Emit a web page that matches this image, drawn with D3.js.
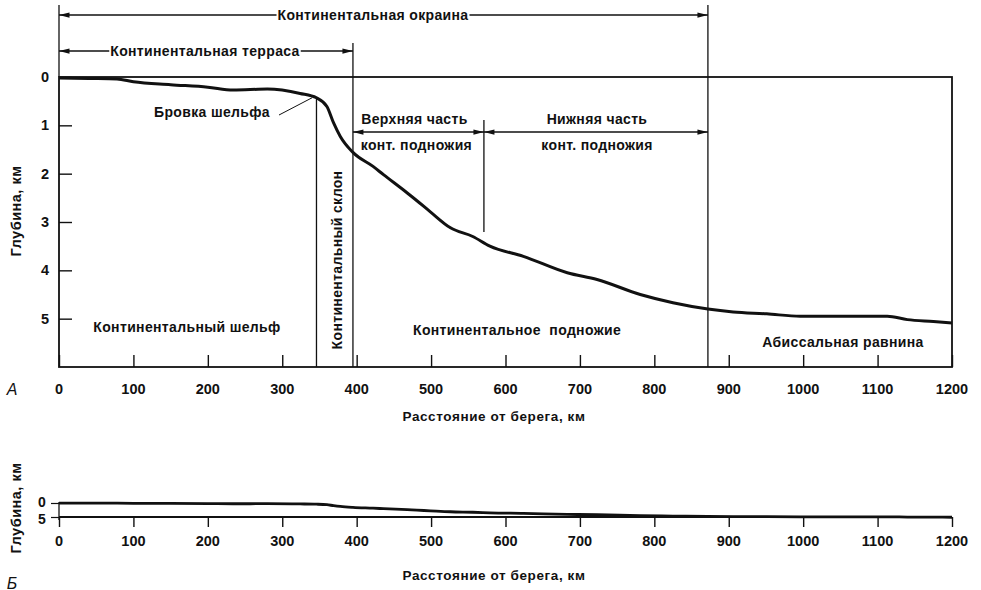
<!DOCTYPE html>
<html><head><meta charset="utf-8">
<script src="https://cdn.jsdelivr.net/npm/d3@7"></script>
<style>
body{margin:0;background:#fff;}
text{font-family:"Liberation Sans",Arial,sans-serif;fill:#111;}
</style></head>
<body><svg id="c" width="981" height="590"></svg>
<script>
// ---- data ----
const distanceKm = [0, 40, 78, 100, 150, 200, 234, 280, 324, 346, 360, 369, 378, 395, 422, 436, 468, 481, 499, 526, 556, 579, 624, 683, 723, 781, 825, 872, 906, 951, 996, 1040, 1113, 1140, 1175, 1200];
const depthKm    = [0.02, 0.03, 0.04, 0.1, 0.16, 0.21, 0.27, 0.25, 0.34, 0.43, 0.61, 0.95, 1.23, 1.56, 1.85, 2.02, 2.4, 2.56, 2.79, 3.12, 3.3, 3.5, 3.71, 4.05, 4.19, 4.5, 4.67, 4.8, 4.86, 4.9, 4.95, 4.95, 4.95, 5.02, 5.06, 5.09];
const xTicks = [0, 100, 200, 300, 400, 500, 600, 700, 800, 900, 1000, 1100, 1200];
const yTicks = [0, 1, 2, 3, 4, 5];
const yTicksSmall = [0, 5];
const shelfBreakKm = 346, slopeEndKm = 395, footMidKm = 571, footEndKm = 872;
const zoneLabels = ["Континентальный шельф", "Континентальный склон", "Континентальное  подножие", "Абиссальная равнина"];

const svg = d3.select("#c");
const ink = "#111";
const FS = 14, LS = 0.35;
const x = d3.scaleLinear([0, 1200], [59, 952]);
const y = d3.scaleLinear([0, 6], [77, 367]);
const data = distanceKm.map((d, i) => ({d, z: depthKm[i]}));

const defs = svg.append("defs");
defs.append("marker").attr("id", "ah").attr("viewBox", "0 0 12 8").attr("refX", 12).attr("refY", 4)
  .attr("markerWidth", 12).attr("markerHeight", 7).attr("markerUnits", "userSpaceOnUse")
  .attr("orient", "auto-start-reverse")
  .append("path").attr("d", "M0,1 L12,4 L0,7 z").attr("fill", ink);

function vline(xv, y1, y2, w) {
  svg.append("line").attr("x1", xv).attr("x2", xv).attr("y1", y1).attr("y2", y2)
    .attr("stroke", ink).attr("stroke-width", w || 1.3);
}
function seg(x1, x2, yv, startArrow, endArrow) {
  const l = svg.append("line").attr("x1", x1).attr("x2", x2).attr("y1", yv).attr("y2", yv)
    .attr("stroke", ink).attr("stroke-width", 1.3);
  if (startArrow) l.attr("marker-start", "url(#ah)");
  if (endArrow) l.attr("marker-end", "url(#ah)");
}
function label(t, xv, yv, size, anchor) {
  return svg.append("text").attr("x", xv).attr("y", yv).attr("text-anchor", anchor || "middle")
    .attr("dominant-baseline", "central").attr("font-size", size || FS).text(t);
}
function note(t, xv, yv) {
  return label(t, xv, yv, FS).attr("font-weight", "bold").attr("letter-spacing", LS);
}
function textArrow(t, x1, x2, yv, cx) {
  const tx = note(t, cx, yv);
  const w = tx.node().getBBox().width;
  seg(cx - w / 2 - 1, x1, yv, false, true);
  seg(cx + w / 2 + 1, x2, yv, false, true);
}

// ---- top chart frame ----
svg.append("rect").attr("x", x(0)).attr("y", y(0)).attr("width", x(1200) - x(0)).attr("height", y(6) - y(0))
  .attr("fill", "none").attr("stroke", ink).attr("stroke-width", 1.8);
vline(x(0), 5, y(0), 1.3);
vline(x(slopeEndKm), 43, y(6), 1.3);
vline(x(footEndKm), 5, y(6), 1.3);
vline(x(shelfBreakKm), y(0.43), y(6), 1.3);
vline(x(footMidKm), 120, 232, 1.3);

const gx = svg.append("g").attr("transform", `translate(0,${y(6)})`)
  .call(d3.axisTop(x).tickValues(xTicks).tickSize(12).tickFormat(""));
gx.select(".domain").remove();
gx.selectAll("line").attr("stroke", ink).attr("stroke-width", 1.4);
xTicks.forEach(v => label(v, x(v), 389, 14.5).attr("font-weight", "bold"));
const gy = svg.append("g").attr("transform", `translate(${x(0)},0)`)
  .call(d3.axisRight(y).tickValues(yTicks).tickSize(13).tickFormat(""));
gy.select(".domain").remove();
gy.selectAll("line").attr("stroke", ink).attr("stroke-width", 1.4);
yTicks.forEach(v => label(v, 45, y(v), 14.5).attr("font-weight", "bold"));

svg.append("text").attr("transform", "translate(16,211) rotate(-90)").attr("text-anchor", "middle")
  .attr("dominant-baseline", "central").attr("font-size", 14.5).attr("font-weight", "bold")
  .attr("letter-spacing", 0.5).text("Глубина, км");
label("А", 12, 389, 16).attr("font-style", "italic");
note("Расстояние от берега, км", 494, 416).attr("font-size", 13.5).attr("letter-spacing", 0.6);

// profile
const line = d3.line().x(d => x(d.d)).y(d => y(d.z)).curve(d3.curveMonotoneX);
svg.append("path").datum(data).attr("d", line).attr("fill", "none").attr("stroke", ink)
  .attr("stroke-width", 3).attr("stroke-linejoin", "round");

// annotations
textArrow("Континентальная окраина", x(0), x(footEndKm), 15, 373);
textArrow("Континентальная терраса", x(0), x(slopeEndKm), 51, 205);
seg(x(slopeEndKm), x(footMidKm), 132, true, true);
seg(x(footMidKm), x(footEndKm), 132, true, true);
note("Верхняя часть", (x(slopeEndKm) + x(footMidKm)) / 2 - 4, 119);
note("конт. подножия", (x(slopeEndKm) + x(footMidKm)) / 2 - 2, 145);
note("Нижняя часть", 597, 119);
note("конт. подножия", 597, 145);
note("Бровка шельфа", 212, 112);
svg.append("line").attr("x1", 279).attr("y1", 115).attr("x2", x(340)).attr("y2", y(0.43))
  .attr("stroke", ink).attr("stroke-width", 1);
note(zoneLabels[0], 187, 327);
svg.append("text").attr("transform", "translate(337,260) rotate(-90)").attr("text-anchor", "middle")
  .attr("dominant-baseline", "central").attr("font-size", FS).attr("font-weight", "bold")
  .attr("letter-spacing", LS).text(zoneLabels[1]);
note(zoneLabels[2], 517, 330).style("white-space", "pre");
note(zoneLabels[3], 843, 342);

// ---- bottom chart (true scale) ----
const y2 = d3.scaleLinear([0, 5], [503, 517]);
svg.append("line").attr("x1", x(0)).attr("x2", x(1200)).attr("y1", y2(5)).attr("y2", y2(5))
  .attr("stroke", ink).attr("stroke-width", 1.8);
vline(x(0), y2(0) - 1, y2(5) + 3, 1.3);
const gx2 = svg.append("g").attr("transform", `translate(0,${y2(5)})`)
  .call(d3.axisBottom(x).tickValues(xTicks).tickSize(10).tickFormat(""));
gx2.select(".domain").remove();
gx2.selectAll("line").attr("stroke", ink).attr("stroke-width", 1.4);
xTicks.forEach(v => label(v, x(v), 541, 14.5).attr("font-weight", "bold"));
const gy2 = svg.append("g").attr("transform", `translate(${x(0)},0)`)
  .call(d3.axisLeft(y2).tickValues(yTicksSmall).tickSize(8).tickFormat(""));
gy2.select(".domain").remove();
gy2.selectAll("line").attr("stroke", ink).attr("stroke-width", 1.2);
label(yTicksSmall[0], 42, 501.5, 14).attr("font-weight", "bold");
label(yTicksSmall[1], 42, 519, 14).attr("font-weight", "bold");
const line2 = d3.line().x(d => x(d.d)).y(d => y2(d.z)).curve(d3.curveMonotoneX);
svg.append("path").datum(data).attr("d", line2).attr("fill", "none").attr("stroke", ink).attr("stroke-width", 2.8);
svg.append("text").attr("transform", "translate(16,508) rotate(-90)").attr("text-anchor", "middle")
  .attr("dominant-baseline", "central").attr("font-size", 14.5).attr("font-weight", "bold")
  .attr("letter-spacing", 0.5).text("Глубина, км");
label("Б", 12, 583, 16).attr("font-style", "italic");
note("Расстояние от берега, км", 494, 575).attr("font-size", 13.5).attr("letter-spacing", 0.6);
</script></body></html>
